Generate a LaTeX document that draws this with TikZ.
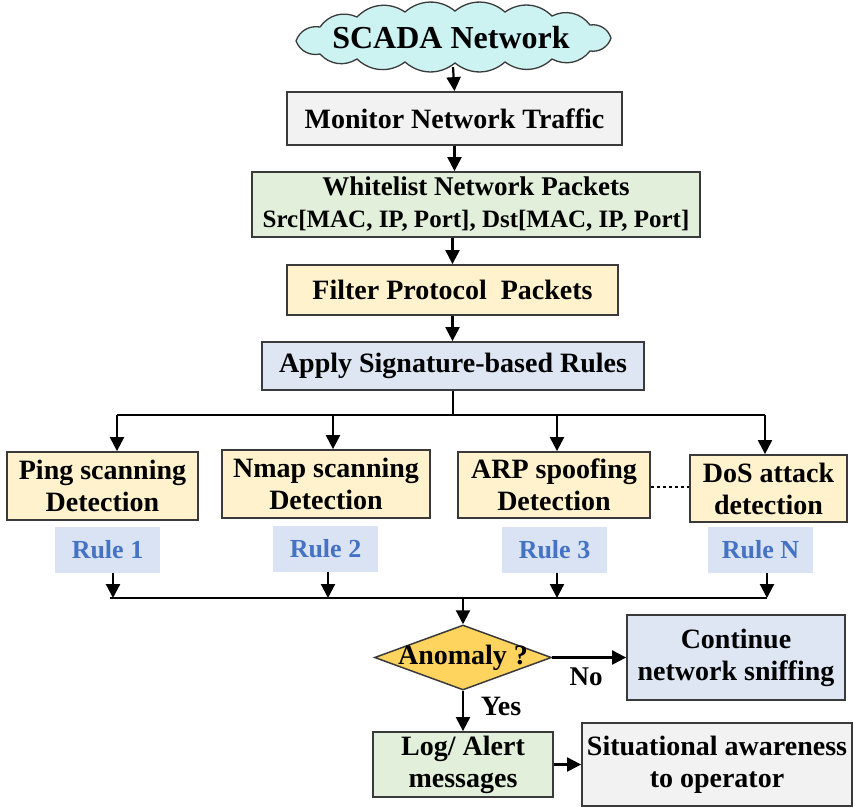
\documentclass[tikz,border=0pt]{standalone}
\usepackage{fontspec}
\setmainfont{Liberation Serif}
\usetikzlibrary{shapes.geometric,arrows.meta}
\definecolor{cloudfill}{HTML}{CCF2F2}
\definecolor{grayfill}{HTML}{F2F2F2}
\definecolor{greenfill}{HTML}{E2EFDA}
\definecolor{yellowfill}{HTML}{FFF2CC}
\definecolor{bluefill}{HTML}{DDE6F2}
\definecolor{rulefill}{HTML}{DAE3F3}
\definecolor{ruletext}{HTML}{4472C4}
\definecolor{golden}{HTML}{FFD45E}
\definecolor{edge}{HTML}{3A3A3A}
\tikzset{
  box/.style={draw=edge, line width=1.8pt, inner sep=0pt, align=center, font=\fontsize{28}{32}\selectfont\bfseries},
  rulebox/.style={fill=rulefill, inner sep=0pt, text=ruletext, font=\fontsize{26}{30}\selectfont\bfseries},
  conn/.style={line width=2.2pt, black},
  arr/.style={conn, -{Triangle[width=14pt,length=14pt]}},
  lbl/.style={font=\fontsize{28}{32}\selectfont\bfseries, inner sep=0pt},
  puff/.style={bend left=40}
}
\begin{document}
\begin{tikzpicture}[x=1pt,y=-1pt]
\useasboundingbox (0,0) rectangle (854,807);
% cloud
\filldraw[draw=edge, line width=1.3pt, fill=cloudfill]
  (296,41) to[puff] (320,27) to[puff] (357,17) to[puff] (405,12) to[puff] (455,11)
  to[puff] (505,12) to[puff] (552,16) to[puff] (590,25) to[puff] (611,38)
  to[puff] (590,51) to[puff] (552,59) to[puff] (505,62) to[puff] (455,63)
  to[puff] (405,62) to[puff] (357,59) to[puff] (320,54) to[puff] cycle;
\node[minimum width=316pt, minimum height=58pt, inner sep=0pt] (cloud) at (453,38) {};
\node[font=\fontsize{32}{36}\selectfont\bfseries, inner sep=0pt] (cloudt) at (451,38) {SCADA Network};
% nodes
\node[box, fill=grayfill, minimum width=335pt, minimum height=53pt] (mon) at (454.5,118.5) {Monitor Network Traffic};
\node[box, fill=greenfill, minimum width=448pt, minimum height=65pt] (wl) at (476,204.5) {\fontsize{27}{31}\selectfont Whitelist Network Packets\\\fontsize{25}{29}\selectfont Src[MAC, IP, Port], Dst[MAC, IP, Port]};
\node[box, fill=yellowfill, minimum width=331pt, minimum height=50pt] (fil) at (452.5,290) {Filter Protocol\ \ Packets};
\node[box, fill=bluefill, minimum width=382pt, minimum height=48pt] (app) at (453,366) {Apply Signature-based Rules};
\node[box, fill=yellowfill, minimum width=191pt, minimum height=68pt] (ping) at (102.5,486) {Ping scanning\\Detection};
\node[box, fill=yellowfill, minimum width=208pt, minimum height=68pt] (nmap) at (326,484) {Nmap scanning\\Detection};
\node[box, fill=yellowfill, minimum width=192pt, minimum height=66pt] (arp) at (554,485) {ARP spoofing\\Detection};
\node[box, fill=yellowfill, minimum width=157pt, minimum height=67pt] (dos) at (768.5,488.5) {DoS attack\\detection};
\node[rulebox, minimum width=105pt, minimum height=46pt] (r1) at (107.5,550) {Rule 1};
\node[rulebox, minimum width=105pt, minimum height=46pt] (r2) at (325.5,548.5) {Rule 2};
\node[rulebox, minimum width=105pt, minimum height=46pt] (r3) at (554.5,550) {Rule 3};
\node[rulebox, minimum width=105pt, minimum height=46pt] (rN) at (760.5,550) {Rule N};
\node[diamond, draw=edge, line width=1.5pt, fill=golden, minimum width=177pt, minimum height=65pt, inner sep=0pt] (anom) at (463,657.5) {};
\node[lbl] (anomt) at (anom.center) {Anomaly ?};
\node[box, fill=bluefill, minimum width=218pt, minimum height=85pt] (cont) at (736,657.5) {Continue\\network sniffing};
\node[box, fill=greenfill, minimum width=180pt, minimum height=65pt] (log) at (463,764.5) {Log/ Alert\\messages};
\node[box, fill=grayfill, minimum width=270pt, minimum height=83pt] (sit) at (717,764.5) {Situational awareness\\to operator};
\node[lbl, font=\fontsize{27}{31}\selectfont\bfseries] (no) at (586,677) {No};
\node[lbl] (yes) at (501,706) {Yes};
% bus coordinates
\coordinate (bt) at (453,415);
\coordinate (b1) at (117,415);
\coordinate (b2) at (333,415);
\coordinate (b3) at (557,415);
\coordinate (b4) at (765,415);
\coordinate (c1) at (113,598);
\coordinate (c2) at (328,598);
\coordinate (c3) at (557,598);
\coordinate (c4) at (767,598);
\coordinate (c0) at (110,598);
\coordinate (cm) at (463,598);
\coordinate (dl) at (0,487);
% connectors
\draw[arr] (cloud.south) -- (mon.north);
\draw[arr] (mon.south) -- (mon.south |- wl.north);
\draw[arr] (fil.north |- wl.south) -- (fil.north);
\draw[arr] (fil.south) -- (fil.south |- app.north);
\draw[conn] (app.south) -- (bt);
\draw[conn] (b1) -- (b4);
\draw[arr] (b1) -- (b1 |- ping.north);
\draw[arr] (b2) -- (b2 |- nmap.north);
\draw[arr] (b3) -- (b3 |- arp.north);
\draw[arr] (b4) -- (b4 |- dos.north);
\draw[conn, dash pattern=on 3pt off 3pt] (arp.east |- dl) -- (dos.west |- dl);
\draw[arr] (c1 |- r1.south) -- (c1);
\draw[arr] (c2 |- r2.south) -- (c2);
\draw[arr] (c3 |- r3.south) -- (c3);
\draw[arr] (c4 |- rN.south) -- (c4);
\draw[conn] (c0) -- (c4);
\draw[arr] (cm) -- (anom.north);
\draw[arr] (anom.east) -- (anom.east -| cont.west);
\draw[arr] (anom.south) -- (log.north);
\draw[arr] (log.east) -- (log.east -| sit.west);
\end{tikzpicture}
\end{document}
